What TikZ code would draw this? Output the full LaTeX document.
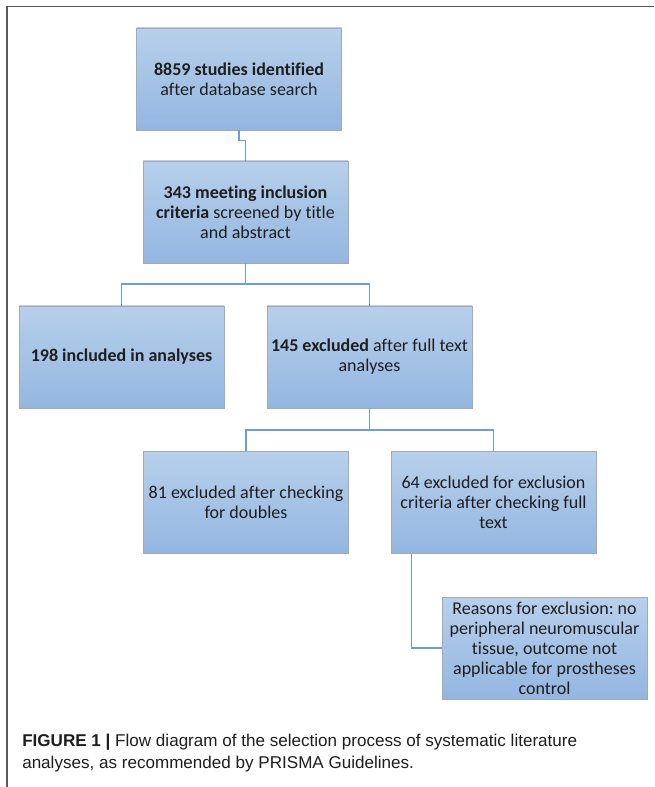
\documentclass[tikz,border=0pt]{standalone}
\usepackage{fontspec}
\setmainfont{Carlito}[Ligatures={NoCommon}]
\newfontfamily\capfont{Liberation Sans}
\definecolor{boxtop}{HTML}{B8D0EB}
\definecolor{boxbot}{HTML}{93B6E1}
\definecolor{boxline}{HTML}{A3AAB5}
\definecolor{connline}{HTML}{6C9DD3}
\definecolor{frameline}{HTML}{5A5A5A}
\definecolor{txt}{HTML}{1E1E1E}
\tikzset{
  flowbox/.style={rectangle, draw=boxline, line width=0.7pt, top color=boxtop, bottom color=boxbot,
    minimum width=153.75pt, minimum height=76.5pt, inner sep=0pt, align=center,
    font=\fontsize{13.5}{15}\selectfont\frenchspacing, text=txt},
  conn/.style={draw=connline, line width=1.1pt},
  frame/.style={draw=frameline, line width=1.1pt}
}
\begin{document}
\begin{tikzpicture}[x=0.75pt,y=-0.75pt]
\useasboundingbox[fill=white] (0,0) rectangle (654,787);
\coordinate (fa) at (7,787);
\coordinate (fb) at (7,6.5);
\coordinate (fc) at (654,6.5);
\draw[frame] (fa) -- (fb) -- (fc);

\node[flowbox] (b1) at (239,79) {\textbf{8859 studies identified}\\after database search};
\node[flowbox] (b2) at (245.5,212) {\textbf{343 meeting inclusion}\\\textbf{criteria} screened by title\\and abstract};
\node[flowbox] (b3) at (121.5,357) {\textbf{198 included in analyses}};
\node[flowbox] (b4) at (369.5,357) {\textbf{145 excluded} after full text\\analyses};
\node[flowbox] (b5) at (246,502.5) {81 excluded after checking\\for doubles};
\node[flowbox] (b6) at (493.5,502.5) {64 excluded for exclusion\\criteria after checking full\\text};
\node[flowbox] (b7) at (544.5,648) {Reasons for exclusion: no\\peripheral neuromuscular\\tissue, outcome not\\applicable for prostheses\\control};

\coordinate (j1) at (245.5,284);
\coordinate (j2) at (369.5,430);
\draw[conn] (b1.south) -- ++(0,10) -| (b2.north);
\draw[conn] (b2.south) -- (j1);
\draw[conn] (j1) -| (b3.north);
\draw[conn] (j1) -| (b4.north);
\draw[conn] (b4.south) -- (j2);
\draw[conn] (j2) -| (b5.north);
\draw[conn] (j2) -| (b6.north);
\draw[conn] ([xshift=15.75pt]b6.south west) |- (b7.west);

\node[anchor=base west, inner sep=0pt, font=\capfont\fontsize{12.8}{16.5}\selectfont, text=txt, align=left] (cap) at (22,768)
  {\textbf{FIGURE 1 |} Flow diagram of the selection process of systematic literature\\analyses, as recommended by PRISMA Guidelines.};
\end{tikzpicture}
\end{document}
